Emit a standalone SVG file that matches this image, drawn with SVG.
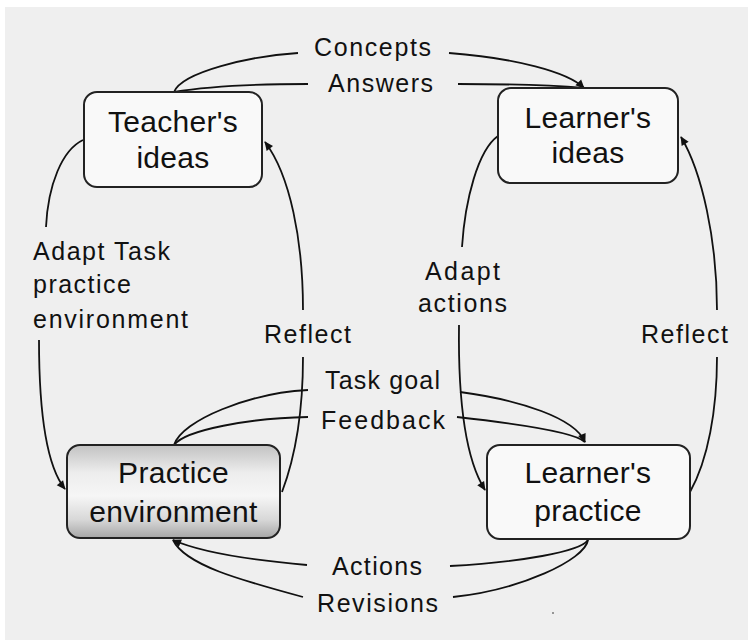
<svg xmlns="http://www.w3.org/2000/svg" width="748" height="640" viewBox="0 0 748 640">
  <defs>
    <marker id="arrow" viewBox="0 0 10 10" refX="9" refY="5" markerWidth="10" markerHeight="9" markerUnits="userSpaceOnUse" orient="auto">
      <path d="M0,0.5 L10,5 L0,9.5 Z" fill="#111"/>
    </marker>
    <linearGradient id="gradPractice" x1="0" y1="0" x2="0" y2="1">
      <stop offset="0" stop-color="#c2c2c2"/>
      <stop offset="0.3" stop-color="#ededed"/>
      <stop offset="0.55" stop-color="#f6f6f6"/>
      <stop offset="0.8" stop-color="#d8d8d8"/>
      <stop offset="1" stop-color="#a6a6a6"/>
    </linearGradient>
    <style>
      .box { fill: #f9f9f9; stroke: #222; stroke-width: 2; }
      .node-text { font-family: "Liberation Sans", Arial, sans-serif; font-size: 30px; fill: #111; text-anchor: middle; letter-spacing: 0.3px; }
      .label { font-family: "Liberation Sans", Arial, sans-serif; font-size: 25px; fill: #111; }
      .edge { fill: none; stroke: #111; stroke-width: 1.8; }
    </style>
  </defs>

  <rect x="0" y="0" width="748" height="640" fill="#ffffff"/>
  <rect x="5" y="7" width="743" height="633" fill="#efefef"/>

  <g id="connectors">
    <!-- Concepts -->
    <path class="edge" d="M174,92 C182,72 250,56 298,53"/>
    <path class="edge" d="M449,53 C515,58 568,72 584,88" marker-end="url(#arrow)"/>
    <!-- Answers -->
    <path class="edge" d="M174,92 C210,86 260,84 308,84"/>
    <path class="edge" d="M458,84 C510,84 560,86 584,88"/>
    <!-- Adapt Task practice environment -->
    <path class="edge" d="M83,140 C62,150 48,185 46,227"/>
    <path class="edge" d="M39,340 C39,420 48,468 65,489" marker-end="url(#arrow)"/>
    <!-- Reflect (left) -->
    <path class="edge" d="M282,492 C296,455 303,410 303,357"/>
    <path class="edge" d="M303,310 C303,240 290,175 265,142" marker-end="url(#arrow)"/>
    <!-- Adapt actions -->
    <path class="edge" d="M498,136 C478,150 465,200 462,247"/>
    <path class="edge" d="M459,325 C458,400 466,460 485,490" marker-end="url(#arrow)"/>
    <!-- Reflect (right) -->
    <path class="edge" d="M690,492 C708,460 717,410 717,357"/>
    <path class="edge" d="M717,310 C717,240 702,172 681,137" marker-end="url(#arrow)"/>
    <!-- Task goal -->
    <path class="edge" d="M174,445 C182,420 250,393 308,390"/>
    <path class="edge" d="M460,392 C520,400 575,418 585,442" marker-end="url(#arrow)"/>
    <!-- Feedback -->
    <path class="edge" d="M174,445 C185,430 250,418 308,417"/>
    <path class="edge" d="M457,417 C520,424 575,432 585,442"/>
    <!-- Actions -->
    <path class="edge" d="M588,540 C580,552 520,562 450,566"/>
    <path class="edge" d="M307,565 C250,560 200,552 173,540" marker-end="url(#arrow)"/>
    <!-- Revisions -->
    <path class="edge" d="M588,540 C585,560 520,590 453,597"/>
    <path class="edge" d="M303,597 C240,580 185,565 173,540"/>
  </g>

  <g id="edge-labels">
    <text class="label" x="314" y="56" textLength="117" lengthAdjust="spacing">Concepts</text>
    <text class="label" x="328" y="92" textLength="105" lengthAdjust="spacing">Answers</text>
    <text class="label" x="325" y="389" textLength="115" lengthAdjust="spacing">Task goal</text>
    <text class="label" x="321" y="429" textLength="124" lengthAdjust="spacing">Feedback</text>
    <text class="label" x="332" y="575" textLength="90" lengthAdjust="spacing">Actions</text>
    <text class="label" x="317" y="612" textLength="121" lengthAdjust="spacing">Revisions</text>
    <text class="label" x="33" y="260" textLength="137" lengthAdjust="spacing">Adapt Task</text>
    <text class="label" x="33" y="293" textLength="98" lengthAdjust="spacing">practice</text>
    <text class="label" x="33" y="328" textLength="155" lengthAdjust="spacing">environment</text>
    <text class="label" x="264" y="343" textLength="87" lengthAdjust="spacing">Reflect</text>
    <text class="label" x="641" y="343" textLength="87" lengthAdjust="spacing">Reflect</text>
    <text class="label" x="425" y="280" textLength="75" lengthAdjust="spacing">Adapt</text>
    <text class="label" x="418" y="312" textLength="89" lengthAdjust="spacing">actions</text>
  </g>

  <g id="teachers-ideas">
    <rect class="box" x="84" y="92" width="178" height="95" rx="13"/>
    <text class="node-text" x="173" y="132">Teacher's</text>
    <text class="node-text" x="173" y="168">ideas</text>
  </g>

  <g id="learners-ideas">
    <rect class="box" x="498" y="88" width="180" height="95" rx="13"/>
    <text class="node-text" x="588" y="128">Learner's</text>
    <text class="node-text" x="588" y="163">ideas</text>
  </g>

  <g id="practice-environment">
    <rect class="box" x="67" y="445" width="213" height="93" rx="13" style="fill:url(#gradPractice)"/>
    <text class="node-text" x="173.5" y="483">Practice</text>
    <text class="node-text" x="173.5" y="522">environment</text>
  </g>

  <g id="learners-practice">
    <rect class="box" x="487" y="445" width="203" height="94" rx="13"/>
    <text class="node-text" x="588" y="483">Learner's</text>
    <text class="node-text" x="588" y="521">practice</text>
  </g>

  <circle cx="553" cy="613" r="1" fill="#777"/>
</svg>
